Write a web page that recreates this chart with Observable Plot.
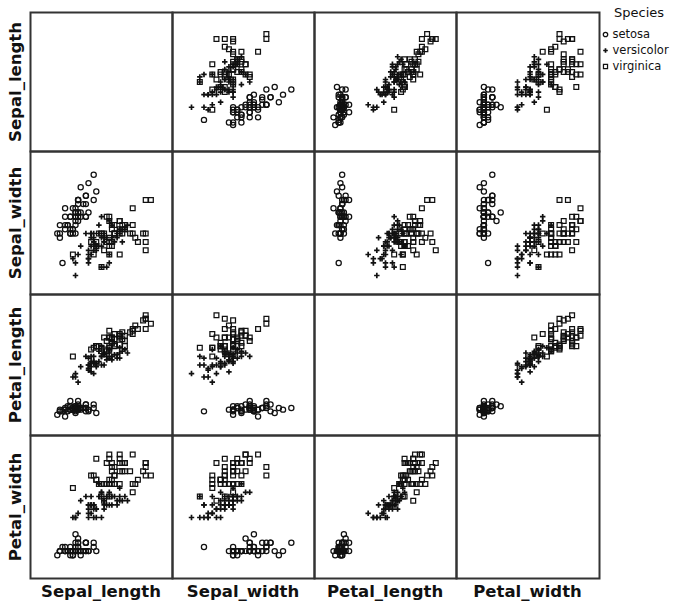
<!DOCTYPE html>
<html><head><meta charset="utf-8">
<script src="https://cdn.jsdelivr.net/npm/d3@7"></script>
<script src="https://cdn.jsdelivr.net/npm/@observablehq/plot@0.6"></script>
<style>
body{margin:0;background:#fff;font-family:"DejaVu Sans",sans-serif;}
#chart{position:relative;width:690px;height:606px;overflow:hidden;background:#fff;}
.cell{position:absolute;}
.lab{position:absolute;font-family:"DejaVu Sans",sans-serif;font-weight:700;font-size:16.5px;color:#111;white-space:nowrap;line-height:1;}
.leg-title{position:absolute;font-family:"DejaVu Sans",sans-serif;font-size:13px;color:#111;white-space:nowrap;line-height:1;}
</style></head><body><div id="chart"></div>
<script>
const variables = ["Sepal_length","Sepal_width","Petal_length","Petal_width"];
const speciesNames = ["setosa","versicolor","virginica"];
const speciesSymbols = ["circle","plus","square"];

const setosaSepalLength = [5.1,4.9,4.7,4.6,5.0,5.4,4.6,5.0,4.4,4.9,5.4,4.8,4.8,4.3,5.8,5.7,5.4,5.1,5.7,5.1,5.4,5.1,4.6,5.1,4.8,5.0,5.0,5.2,5.2,4.7,4.8,5.4,5.2,5.5,4.9,5.0,5.5,4.9,4.4,5.1,5.0,4.5,4.4,5.0,5.1,4.8,5.1,4.6,5.3,5.0];
const setosaSepalWidth  = [3.5,3.0,3.2,3.1,3.6,3.9,3.4,3.4,2.9,3.1,3.7,3.4,3.0,3.0,4.0,4.4,3.9,3.5,3.8,3.8,3.4,3.7,3.6,3.3,3.4,3.0,3.4,3.5,3.4,3.2,3.1,3.4,4.1,4.2,3.1,3.2,3.5,3.6,3.0,3.4,3.5,2.3,3.2,3.5,3.8,3.0,3.8,3.2,3.7,3.3];
const setosaPetalLength = [1.4,1.4,1.3,1.5,1.4,1.7,1.4,1.5,1.4,1.5,1.5,1.6,1.4,1.1,1.2,1.5,1.3,1.4,1.7,1.5,1.7,1.5,1.0,1.7,1.9,1.6,1.6,1.5,1.4,1.6,1.6,1.5,1.5,1.4,1.5,1.2,1.3,1.4,1.3,1.5,1.3,1.3,1.3,1.6,1.9,1.4,1.6,1.4,1.5,1.4];
const setosaPetalWidth  = [0.2,0.2,0.2,0.2,0.2,0.4,0.3,0.2,0.2,0.1,0.2,0.2,0.1,0.1,0.2,0.4,0.4,0.3,0.3,0.3,0.2,0.4,0.2,0.5,0.2,0.2,0.4,0.2,0.2,0.2,0.2,0.4,0.1,0.2,0.2,0.2,0.2,0.1,0.2,0.2,0.3,0.3,0.2,0.6,0.4,0.3,0.2,0.2,0.2,0.2];

const versicolorSepalLength = [7.0,6.4,6.9,5.5,6.5,5.7,6.3,4.9,6.6,5.2,5.0,5.9,6.0,6.1,5.6,6.7,5.6,5.8,6.2,5.6,5.9,6.1,6.3,6.1,6.4,6.6,6.8,6.7,6.0,5.7,5.5,5.5,5.8,6.0,5.4,6.0,6.7,6.3,5.6,5.5,5.5,6.1,5.8,5.0,5.6,5.7,5.7,6.2,5.1,5.7];
const versicolorSepalWidth  = [3.2,3.2,3.1,2.3,2.8,2.8,3.3,2.4,2.9,2.7,2.0,3.0,2.2,2.9,2.9,3.1,3.0,2.7,2.2,2.5,3.2,2.8,2.5,2.8,2.9,3.0,2.8,3.0,2.9,2.6,2.4,2.4,2.7,2.7,3.0,3.4,3.1,2.3,3.0,2.5,2.6,3.0,2.6,2.3,2.7,3.0,2.9,2.9,2.5,2.8];
const versicolorPetalLength = [4.7,4.5,4.9,4.0,4.6,4.5,4.7,3.3,4.6,3.9,3.5,4.2,4.0,4.7,3.6,4.4,4.5,4.1,4.5,3.9,4.8,4.0,4.9,4.7,4.3,4.4,4.8,5.0,4.5,3.5,3.8,3.7,3.9,5.1,4.5,4.5,4.7,4.4,4.1,4.0,4.4,4.6,4.0,3.3,4.2,4.2,4.2,4.3,3.0,4.1];
const versicolorPetalWidth  = [1.4,1.5,1.5,1.3,1.5,1.3,1.6,1.0,1.3,1.4,1.0,1.5,1.0,1.4,1.3,1.4,1.5,1.0,1.5,1.1,1.8,1.3,1.5,1.2,1.3,1.4,1.4,1.7,1.5,1.0,1.1,1.0,1.2,1.6,1.5,1.6,1.5,1.3,1.3,1.3,1.2,1.4,1.2,1.0,1.3,1.2,1.3,1.3,1.1,1.3];

const virginicaSepalLength = [6.3,5.8,7.1,6.3,6.5,7.6,4.9,7.3,6.7,7.2,6.5,6.4,6.8,5.7,5.8,6.4,6.5,7.7,7.7,6.0,6.9,5.6,7.7,6.3,6.7,7.2,6.2,6.1,6.4,7.2,7.4,7.9,6.4,6.3,6.1,7.7,6.3,6.4,6.0,6.9,6.7,6.9,5.8,6.8,6.7,6.7,6.3,6.5,6.2,5.9];
const virginicaSepalWidth  = [3.3,2.7,3.0,2.9,3.0,3.0,2.5,2.9,2.5,3.6,3.2,2.7,3.0,2.5,2.8,3.2,3.0,3.8,2.6,2.2,3.2,2.8,2.8,2.7,3.3,3.2,2.8,3.0,2.8,3.0,2.8,3.8,2.8,2.8,2.6,3.0,3.4,3.1,3.0,3.1,3.1,3.1,2.7,3.2,3.3,3.0,2.5,3.0,3.4,3.0];
const virginicaPetalLength = [6.0,5.1,5.9,5.6,5.8,6.6,4.5,6.3,5.8,6.1,5.1,5.3,5.5,5.0,5.1,5.3,5.5,6.7,6.9,5.0,5.7,4.9,6.7,4.9,5.7,6.0,4.8,4.9,5.6,5.8,6.1,6.4,5.6,5.1,5.6,6.1,5.6,5.5,4.8,5.4,5.6,5.1,5.1,5.9,5.7,5.2,5.0,5.2,5.4,5.1];
const virginicaPetalWidth  = [2.5,1.9,2.1,1.8,2.2,2.1,1.7,1.8,1.8,2.5,2.0,1.9,2.1,2.0,2.4,2.3,1.8,2.2,2.3,1.5,2.3,2.0,2.0,1.8,2.1,1.8,1.8,1.8,2.1,1.6,1.9,2.0,2.2,1.5,1.4,2.3,2.4,1.8,1.8,2.1,2.4,2.3,1.9,2.3,2.5,2.3,1.9,2.0,2.3,1.8];

const columnsBySpecies = {
  setosa: [setosaSepalLength, setosaSepalWidth, setosaPetalLength, setosaPetalWidth],
  versicolor: [versicolorSepalLength, versicolorSepalWidth, versicolorPetalLength, versicolorPetalWidth],
  virginica: [virginicaSepalLength, virginicaSepalWidth, virginicaPetalLength, virginicaPetalWidth]
};
const rows = [];
for (const s of speciesNames) {
  const cols = columnsBySpecies[s];
  cols[0].forEach((_, i) => {
    const r = {species: s};
    variables.forEach((v, k) => r[v] = cols[k][i]);
    rows.push(r);
  });
}

// marker styles per species
const markerStyle = {
  setosa:     {symbol: "circle", r: 2.6, strokeWidth: 1.25},
  versicolor: {symbol: "plus",   r: 1.9, strokeWidth: 1.7},
  virginica:  {symbol: "square", r: 2.7, strokeWidth: 1.25}
};

// layout (pixel boundaries of the grid lines)
const xb = [30, 172, 314, 456, 599];
const yb = [12, 151, 294, 435, 578];
const chart = document.getElementById("chart");
const LINE = "#333";

for (let r = 0; r < 4; r++) {
  for (let c = 0; c < 4; c++) {
    const w = xb[c+1] - xb[c], h = yb[r+1] - yb[r];
    const marks = [];
    if (r !== c) {
      for (const s of speciesNames) {
        marks.push(Plot.dot(rows, {
          filter: d => d.species === s,
          x: variables[c], y: variables[r],
          stroke: "#111", fill: "none", ...markerStyle[s]
        }));
      }
    }
    marks.push(Plot.frame({stroke: LINE, strokeWidth: 2}));
    const p = Plot.plot({
      width: w + 2, height: h + 2, margin: 1,
      style: {background: "none", overflow: "visible"},
      x: {axis: null, nice: 5, inset: 19},
      y: {axis: null, nice: 5, inset: 19},
      marks
    });
    const d = document.createElement("div");
    d.className = "cell";
    d.style.left = (xb[c] - 1) + "px";
    d.style.top = (yb[r] - 1) + "px";
    d.appendChild(p);
    chart.appendChild(d);
  }
}

// axis labels
variables.forEach((v, i) => {
  const b = document.createElement("div");
  b.className = "lab";
  b.textContent = v;
  b.style.left = ((xb[i] + xb[i+1]) / 2) + "px";
  b.style.top = "592px";
  b.style.transform = "translate(-50%,-50%)";
  chart.appendChild(b);
  const l = document.createElement("div");
  l.className = "lab";
  l.textContent = v;
  l.style.left = "16px";
  l.style.top = ((yb[i] + yb[i+1]) / 2) + "px";
  l.style.transform = "translate(-50%,-50%) rotate(-90deg)";
  chart.appendChild(l);
});

// legend
const lt = document.createElement("div");
lt.className = "leg-title";
lt.textContent = "Species";
lt.style.left = "614px";
lt.style.top = "6px";
chart.appendChild(lt);

const legend = Plot.plot({
  width: 90, height: 80, margin: 0,
  style: {background: "none", overflow: "visible", fontFamily: "DejaVu Sans, sans-serif", fontSize: "11.5px"},
  x: {axis: null, domain: [0, 1], range: [0, 90]},
  y: {axis: null, type: "point", padding: 0, domain: speciesNames, range: [34, 66]},
  marks: [
    ...speciesNames.map(s => Plot.dot([s], {y: d => d, frameAnchor: "left", dx: 5, stroke: "#111", fill: "none", ...markerStyle[s], r: markerStyle[s].r * 0.85})),
    Plot.text(speciesNames, {y: d => d, text: d => d, frameAnchor: "left", dx: 12, textAnchor: "start", fill: "#111"})
  ]
});
const ld = document.createElement("div");
ld.className = "cell";
ld.style.left = "600px";
ld.style.top = "0px";
ld.appendChild(legend);
chart.appendChild(ld);
</script></body></html>
